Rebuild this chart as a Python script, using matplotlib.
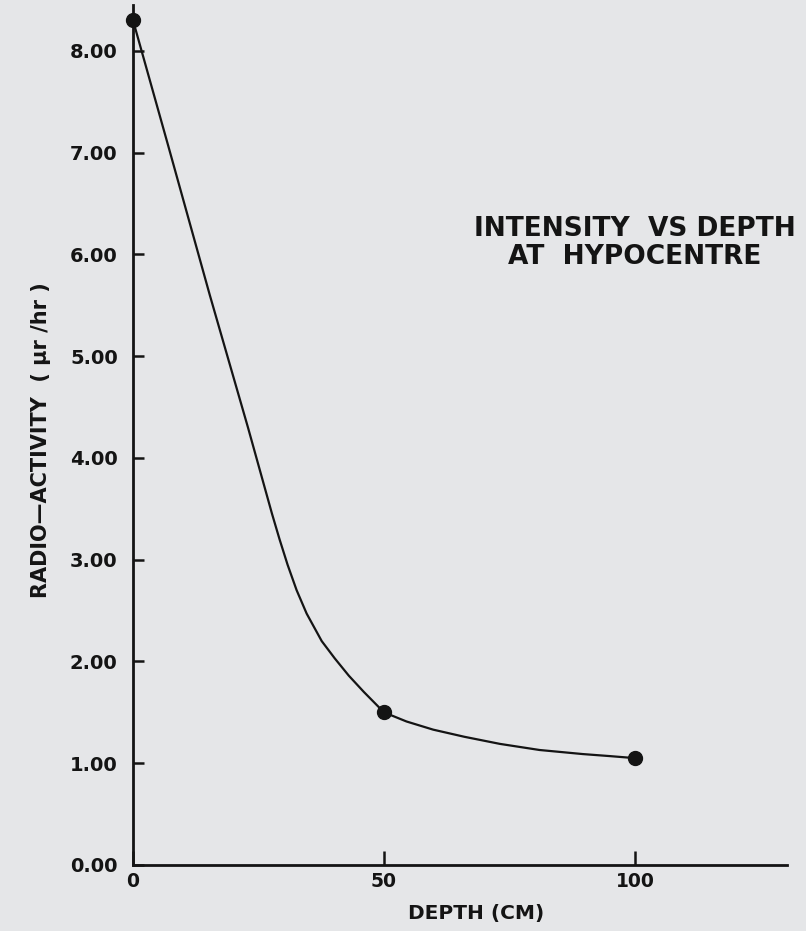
import matplotlib
matplotlib.use("Agg")
import matplotlib.pyplot as plt

# measured data points (depth cm, radio-activity µr/hr)
depth_pts = [0, 50, 100]
activity_pts = [8.3, 1.5, 1.05]

# hand-drawn curve
curve_depth = [0, 7.0, 15.3, 22.9, 27.7, 29.2, 30.8, 32.6, 34.6, 37.6, 40.2, 43.0,
               46.0, 50.0, 54.5, 59.8, 66.0, 73.1, 81.0, 89.6, 95.0, 100.0]
curve_activity = [8.3, 7.07, 5.6, 4.3, 3.45, 3.2, 2.95, 2.7, 2.47, 2.2, 2.03, 1.86,
                  1.7, 1.5, 1.41, 1.33, 1.26, 1.19, 1.13, 1.09, 1.07, 1.05]

x_ticks = [0, 50, 100]
x_tick_labels = ["0", "50", "100"]
y_ticks = [0, 1, 2, 3, 4, 5, 6, 7, 8]
y_tick_labels = ["0.00", "1.00", "2.00", "3.00", "4.00", "5.00", "6.00", "7.00", "8.00"]

bg = "#e5e6e8"
ink = "#141414"

fig = plt.figure(figsize=(8.06, 9.31), dpi=100, facecolor=bg)
ax = fig.add_axes([133/806, 66/931, 654/806, 860/931])
ax.set_facecolor(bg)

ax.plot(curve_depth, curve_activity, color=ink, lw=1.6, clip_on=False, zorder=3,
        solid_joinstyle="round")
ax.plot(depth_pts, activity_pts, 'o', color=ink, ms=10, clip_on=False, zorder=4)

ax.set_xlim(0, 130.3)
ax.set_ylim(0, 8.45)

for s in ["top", "right"]:
    ax.spines[s].set_visible(False)
for s in ["left", "bottom"]:
    ax.spines[s].set_linewidth(2.0)
    ax.spines[s].set_color(ink)

font = dict(family="DejaVu Sans", weight="bold")
ax.set_xticks(x_ticks)
ax.set_xticklabels(x_tick_labels, fontsize=13.5, **font)
ax.set_yticks(y_ticks)
ax.set_yticklabels(y_tick_labels, fontsize=14, **font)
ax.tick_params(axis="x", direction="in", length=10, width=1.8, pad=5, colors=ink)
ax.tick_params(axis="y", direction="in", length=8, width=1.8, pad=11, colors=ink)

ax.set_xlabel("DEPTH (CM)", fontsize=14.5, color=ink, **font)
ax.xaxis.set_label_coords(0.524, -0.045)
ax.set_ylabel("RADIO\u2014ACTIVITY  ( \u03bcr /hr )", fontsize=15, color=ink, **font)
ax.yaxis.set_label_coords(-0.126, 0.494)

fig.text(635/806, 1 - 243/931, "INTENSITY  VS DEPTH\nAT  HYPOCENTRE", ha="center", va="center",
         fontsize=19, color=ink, linespacing=1.15, **font)

fig.savefig("out.png", dpi=100, facecolor=bg)
